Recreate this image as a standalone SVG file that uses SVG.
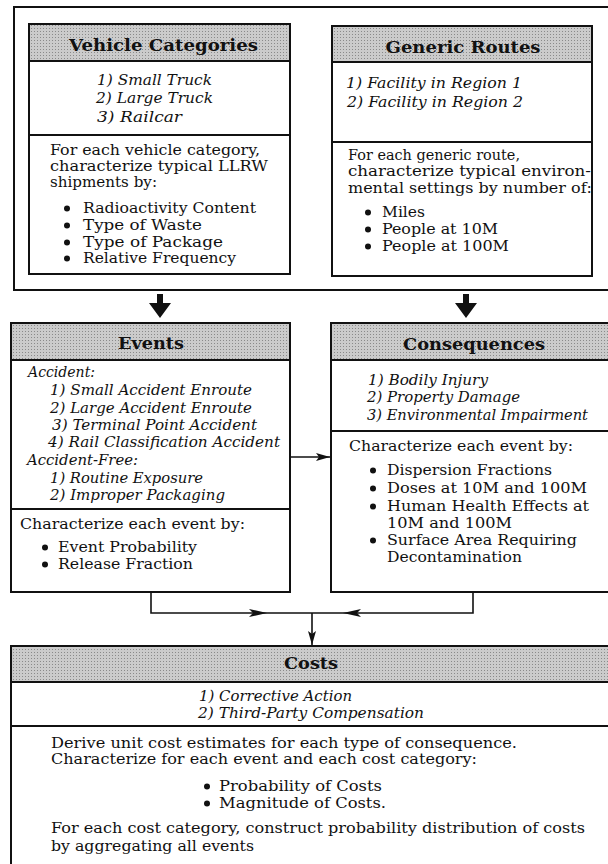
<svg xmlns="http://www.w3.org/2000/svg" width="608" height="864" viewBox="0 0 608 864">
<defs>
<pattern id="ht" width="3" height="3" patternUnits="userSpaceOnUse">
<rect width="3" height="3" fill="#cbcbcb"/>
<rect x="1" y="1" width="1" height="1" fill="#8a8a8a"/>
</pattern>
<marker id="ah" viewBox="0 0 14 8" refX="14" refY="4" markerWidth="14" markerHeight="8" markerUnits="userSpaceOnUse" orient="auto">
<path d="M0,0 L14,4 L0,8 L3,4 z" fill="#111"/>
</marker>
<style>
.box{fill:#fff;stroke:#111;stroke-width:2}
.hd{fill:url(#ht);stroke:#111;stroke-width:2}
.ln{stroke:#111;stroke-width:2;fill:none}
.cn{stroke:#111;stroke-width:1.6;fill:none}
.bu{fill:#111}
text{font-family:"DejaVu Serif","Liberation Serif",serif;fill:#111}
.h{font-size:17px;font-weight:bold;text-anchor:middle}
.b{font-size:14.5px}
.i{font-size:14.5px;font-style:italic}
</style>
</defs>
<rect width="608" height="864" fill="#fff"/>
<g id="frame">
<path class="ln" d="M620 7 H14 V290 H620"/>
</g>
<g id="vehicle-categories">
<rect class="box" x="29" y="24" width="261" height="250"/>
<rect class="hd" x="29" y="24" width="261" height="37"/>
<line class="ln" x1="29" y1="135" x2="290" y2="135"/>
<text class="h" x="163.5" y="51" textLength="189" lengthAdjust="spacingAndGlyphs">Vehicle Categories</text>
<text class="i" x="97" y="85" textLength="115" lengthAdjust="spacingAndGlyphs">1) Small Truck</text>
<text class="i" x="96" y="103" textLength="117" lengthAdjust="spacingAndGlyphs">2) Large Truck</text>
<text class="i" x="97" y="122" textLength="85" lengthAdjust="spacingAndGlyphs">3) Railcar</text>
<text class="b" x="50" y="155" textLength="210" lengthAdjust="spacingAndGlyphs">For each vehicle category,</text>
<text class="b" x="50" y="171" textLength="218" lengthAdjust="spacingAndGlyphs">characterize typical LLRW</text>
<text class="b" x="50" y="187" textLength="107" lengthAdjust="spacingAndGlyphs">shipments by:</text>
<circle class="bu" cx="67" cy="208.5" r="3"/>
<text class="b" x="83" y="213" textLength="173" lengthAdjust="spacingAndGlyphs">Radioactivity Content</text>
<circle class="bu" cx="67" cy="225.5" r="3"/>
<text class="b" x="83" y="230" textLength="119" lengthAdjust="spacingAndGlyphs">Type of Waste</text>
<circle class="bu" cx="67" cy="242.5" r="3"/>
<text class="b" x="83" y="247" textLength="140" lengthAdjust="spacingAndGlyphs">Type of Package</text>
<circle class="bu" cx="67" cy="258.5" r="3"/>
<text class="b" x="83" y="263" textLength="153" lengthAdjust="spacingAndGlyphs">Relative Frequency</text>
</g>
<g id="generic-routes">
<rect class="box" x="332" y="26" width="260" height="250"/>
<rect class="hd" x="332" y="26" width="260" height="36"/>
<line class="ln" x1="332" y1="142" x2="592" y2="142"/>
<text class="h" x="463" y="53" textLength="155" lengthAdjust="spacingAndGlyphs">Generic Routes</text>
<text class="i" x="346" y="88" textLength="176" lengthAdjust="spacingAndGlyphs">1) Facility in Region 1</text>
<text class="i" x="347" y="107" textLength="176" lengthAdjust="spacingAndGlyphs">2) Facility in Region 2</text>
<text class="b" x="348" y="160" textLength="172" lengthAdjust="spacingAndGlyphs">For each generic route,</text>
<text class="b" x="348" y="176" textLength="243" lengthAdjust="spacingAndGlyphs">characterize typical environ-</text>
<text class="b" x="348" y="193" textLength="244" lengthAdjust="spacingAndGlyphs">mental settings by number of:</text>
<circle class="bu" cx="368" cy="212.5" r="3"/>
<text class="b" x="382" y="217" textLength="43" lengthAdjust="spacingAndGlyphs">Miles</text>
<circle class="bu" cx="368" cy="229.5" r="3"/>
<text class="b" x="382" y="234" textLength="116" lengthAdjust="spacingAndGlyphs">People at 10M</text>
<circle class="bu" cx="368" cy="246.5" r="3"/>
<text class="b" x="382" y="251" textLength="127" lengthAdjust="spacingAndGlyphs">People at 100M</text>
</g>
<g id="events">
<rect class="box" x="11" y="323" width="279" height="269"/>
<rect class="hd" x="11" y="323" width="279" height="37"/>
<line class="ln" x1="11" y1="509" x2="290" y2="509"/>
<text class="h" x="151" y="349" textLength="66" lengthAdjust="spacingAndGlyphs">Events</text>
<text class="i" x="28" y="377" textLength="67" lengthAdjust="spacingAndGlyphs">Accident:</text>
<text class="i" x="50" y="395" textLength="202" lengthAdjust="spacingAndGlyphs">1) Small Accident Enroute</text>
<text class="i" x="50" y="413" textLength="202" lengthAdjust="spacingAndGlyphs">2) Large Accident Enroute</text>
<text class="i" x="52" y="430" textLength="205" lengthAdjust="spacingAndGlyphs">3) Terminal Point Accident</text>
<text class="i" x="48" y="447" textLength="232" lengthAdjust="spacingAndGlyphs">4) Rail Classification Accident</text>
<text class="i" x="27" y="465" textLength="111" lengthAdjust="spacingAndGlyphs">Accident-Free:</text>
<text class="i" x="50" y="483" textLength="153" lengthAdjust="spacingAndGlyphs">1) Routine Exposure</text>
<text class="i" x="50" y="500" textLength="175" lengthAdjust="spacingAndGlyphs">2) Improper Packaging</text>
<text class="b" x="20" y="529" textLength="225" lengthAdjust="spacingAndGlyphs">Characterize each event by:</text>
<circle class="bu" cx="45" cy="547.5" r="3"/>
<text class="b" x="58" y="552" textLength="139" lengthAdjust="spacingAndGlyphs">Event Probability</text>
<circle class="bu" cx="45" cy="564.5" r="3"/>
<text class="b" x="58" y="569" textLength="135" lengthAdjust="spacingAndGlyphs">Release Fraction</text>
</g>
<g id="consequences">
<rect class="box" x="331" y="323" width="290" height="269"/>
<rect class="hd" x="331" y="323" width="290" height="37"/>
<line class="ln" x1="331" y1="431" x2="621" y2="431"/>
<text class="h" x="474" y="350" textLength="142" lengthAdjust="spacingAndGlyphs">Consequences</text>
<text class="i" x="368" y="385" textLength="120" lengthAdjust="spacingAndGlyphs">1) Bodily Injury</text>
<text class="i" x="367" y="402" textLength="153" lengthAdjust="spacingAndGlyphs">2) Property Damage</text>
<text class="i" x="367" y="420" textLength="221" lengthAdjust="spacingAndGlyphs">3) Environmental Impairment</text>
<text class="b" x="349" y="451" textLength="224" lengthAdjust="spacingAndGlyphs">Characterize each event by:</text>
<circle class="bu" cx="373" cy="470.5" r="3"/>
<text class="b" x="387" y="475" textLength="165" lengthAdjust="spacingAndGlyphs">Dispersion Fractions</text>
<circle class="bu" cx="373" cy="488.5" r="3"/>
<text class="b" x="387" y="493" textLength="200" lengthAdjust="spacingAndGlyphs">Doses at 10M and 100M</text>
<circle class="bu" cx="373" cy="506.5" r="3"/>
<text class="b" x="387" y="511" textLength="202" lengthAdjust="spacingAndGlyphs">Human Health Effects at</text>
<text class="b" x="387" y="528" textLength="125" lengthAdjust="spacingAndGlyphs">10M and 100M</text>
<circle class="bu" cx="373" cy="540.5" r="3"/>
<text class="b" x="387" y="545" textLength="190" lengthAdjust="spacingAndGlyphs">Surface Area Requiring</text>
<text class="b" x="387" y="562" textLength="135" lengthAdjust="spacingAndGlyphs">Decontamination</text>
</g>
<g id="costs">
<rect class="box" x="11" y="646" width="601" height="240"/>
<rect class="hd" x="11" y="646" width="601" height="36"/>
<line class="ln" x1="11" y1="726" x2="612" y2="726"/>
<text class="h" x="311" y="669" textLength="54" lengthAdjust="spacingAndGlyphs">Costs</text>
<text class="i" x="199" y="701" textLength="153" lengthAdjust="spacingAndGlyphs">1) Corrective Action</text>
<text class="i" x="198" y="718" textLength="226" lengthAdjust="spacingAndGlyphs">2) Third-Party Compensation</text>
<text class="b" x="51" y="748" textLength="466" lengthAdjust="spacingAndGlyphs">Derive unit cost estimates for each type of consequence.</text>
<text class="b" x="51" y="764" textLength="426" lengthAdjust="spacingAndGlyphs">Characterize for each event and each cost category:</text>
<circle class="bu" cx="207" cy="786.5" r="3"/>
<text class="b" x="219" y="791" textLength="163" lengthAdjust="spacingAndGlyphs">Probability of Costs</text>
<circle class="bu" cx="207" cy="803.5" r="3"/>
<text class="b" x="219" y="808" textLength="167" lengthAdjust="spacingAndGlyphs">Magnitude of Costs.</text>
<text class="b" x="51" y="833" textLength="534" lengthAdjust="spacingAndGlyphs">For each cost category, construct probability distribution of costs</text>
<text class="b" x="51" y="851" textLength="203" lengthAdjust="spacingAndGlyphs">by aggregating all events</text>
</g>
<g id="connectors">
<polygon points="157,294 163,294 163,303 171,303 160,318 149,303 157,303" fill="#111"/>
<polygon points="463,294 469,294 469,303 477,303 466,318 455,303 463,303" fill="#111"/>
<line class="cn" x1="290" y1="457" x2="330" y2="457" marker-end="url(#ah)"/>
<path class="cn" d="M151 592 V613 H473 V592"/>
<path d="M249 609 L267 613 L249 617 L253 613 z" fill="#111"/>
<path d="M361 609 L343 613 L361 617 L357 613 z" fill="#111"/>
<line class="cn" x1="312" y1="613" x2="312" y2="645" marker-end="url(#ah)"/>
</g>
</svg>
